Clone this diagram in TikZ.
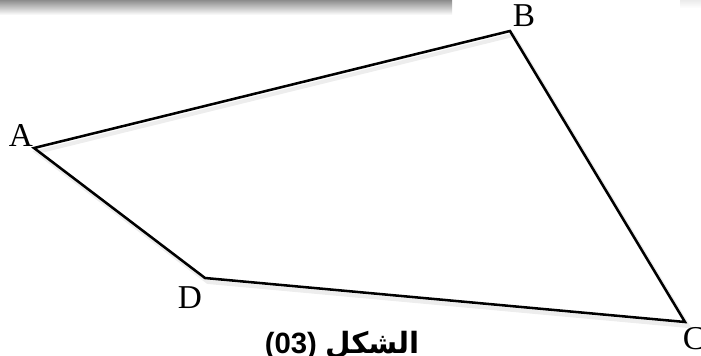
\documentclass[tikz,border=0pt]{standalone}
\usepackage{fontspec}
\setmainfont{Liberation Serif}
\newfontfamily\arabicfont[Script=Arabic]{DejaVu Sans}
\newfontfamily\capfont{Liberation Sans}
\TeXXeTstate=1
\usetikzlibrary{calc}

\tikzset{
    side/.style={line width=1.9pt, line join=miter},
    sideshadow/.style={line width=3pt, black!7},
    vlabel/.style={font=\fontsize{25}{25}\selectfont, inner sep=0pt}
}

\begin{document}
\begin{tikzpicture}[x=0.75pt, y=-0.75pt]
    % Frame of the figure
    \useasboundingbox (0,0) rectangle (701,356);

    % Gray band at the top edge
    \shade[top color=black!45, bottom color=white] (0,0) rectangle (452,15);
    \shade[top color=black!8, bottom color=white] (680,0) rectangle (701,8);

    % Vertices of the quadrilateral
    \coordinate (A) at (34,148);
    \coordinate (B) at (510,31);
    \coordinate (C) at (685,322);
    \coordinate (D) at (205,278);

    % Soft shadow under the sides
    \draw[sideshadow] ($(A)+(3,4)$) -- ($(B)+(3,4)$) -- ($(C)+(3,4)$) -- ($(D)+(3,4)$) -- cycle;

    % Sides
    \draw[side] (A) -- (B) -- (C) -- (D) -- cycle;

    % Vertex labels
    \node[vlabel] (labA) at (21,135) {A};
    \node[vlabel] (labB) at (524,16) {B};
    \node[vlabel] (labC) at (694,339) {C};
    \node[vlabel] (labD) at (190,298) {D};

    % Caption
    \node[anchor=base, inner sep=0pt] (caption) at (342,354)
        {\fontsize{22}{22}\selectfont\bfseries\capfont (03) \arabicfont\beginR الشكل\endR};
\end{tikzpicture}
\end{document}
